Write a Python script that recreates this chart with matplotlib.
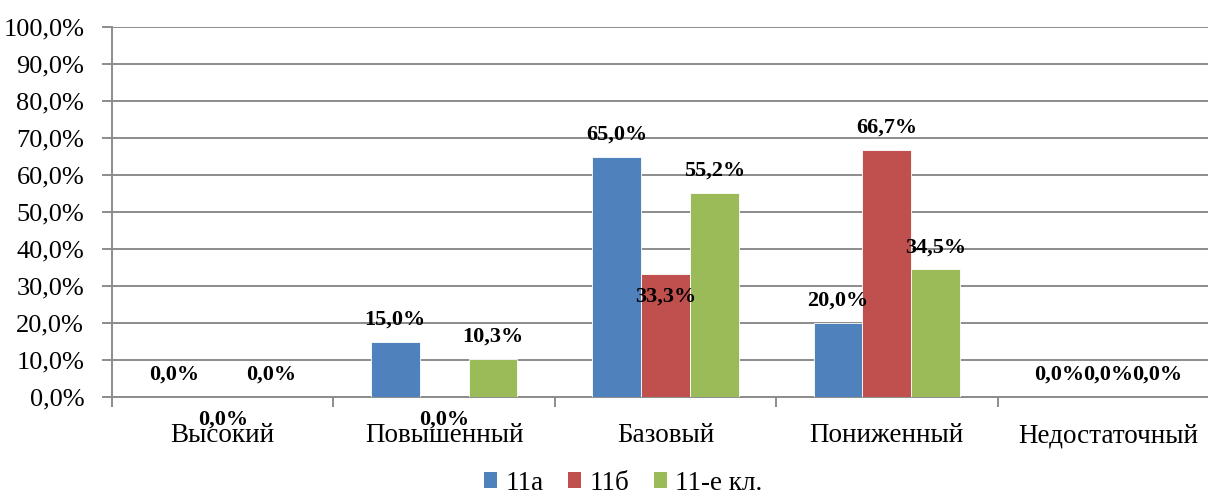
import matplotlib
matplotlib.use("Agg")
import matplotlib.pyplot as plt
from matplotlib.patches import Patch
from matplotlib.ticker import FuncFormatter, MultipleLocator

categories = ["Высокий", "Повышенный", "Базовый", "Пониженный", "Недостаточный"]
series_names = ["11а", "11б", "11-е кл."]
v_11a = [0.0, 15.0, 65.0, 20.0, 0.0]
v_11b = [0.0, 0.0, 33.3, 66.7, 0.0]
v_11all = [0.0, 10.3, 55.2, 34.5, 0.0]
series_values = [v_11a, v_11b, v_11all]
colors = ["#4F81BD", "#C0504D", "#9BBB59"]
# label placement per series / category (+1 above bar top, -1 below)
label_side = [
    [1, 1, 1, 1, 1],
    [-1, -1, -1, 1, 1],
    [1, 1, 1, 1, 1],
]

plt.rcParams["font.family"] = ["Liberation Serif", "DejaVu Serif"]

W, H = 1208, 496
fig = plt.figure(figsize=(W / 100, H / 100), dpi=100)
ax_left, ax_right = 112, 1219
ax_top, ax_bottom = 27, 397
ax = fig.add_axes([ax_left / W, 1 - ax_bottom / H, (ax_right - ax_left) / W, (ax_bottom - ax_top) / H])

grid_c = "#8C8C8C"
bw = 0.221
xs = list(range(len(categories)))
for i, (vals, col) in enumerate(zip(series_values, colors)):
    offs = (i - 1) * bw
    bars = ax.bar([x + offs for x in xs], vals, width=bw, color=col, zorder=3,
                  edgecolor="white", linewidth=0.6)
    for j, (b, v) in enumerate(zip(bars, vals)):
        side = label_side[i][j]
        ax.annotate(f"{v:.1f}%".replace(".", ","),
                    (b.get_x() + b.get_width() / 2, v),
                    xytext=(0, 16 * side - (0.5 if side < 0 else 0)), textcoords="offset points",
                    ha="center", va="center", fontsize=16, fontweight="bold",
                    color="black", zorder=5, annotation_clip=False)

ax.set_xlim(-0.5, len(categories) - 0.5)
ax.set_ylim(0, 100)
ax.yaxis.set_major_locator(MultipleLocator(10))
ax.yaxis.set_major_formatter(FuncFormatter(lambda v, p: f"{v:.1f}%".replace(".", ",")))
ax.grid(axis="y", color=grid_c, linewidth=1.4, zorder=0)
ax.set_axisbelow(True)

ax.set_xticks(xs)
ax.set_xticklabels(categories)
ax.set_xticks([x - 0.5 for x in range(len(categories) + 1)], minor=True)
ax.tick_params(axis="x", which="major", length=0, pad=19, labelsize=19.5)
ax.tick_params(axis="x", which="minor", length=7, width=1.4, color=grid_c)
ax.tick_params(axis="y", length=7, width=1.4, color=grid_c, pad=13, labelsize=19)

for s in ["top", "right"]:
    ax.spines[s].set_visible(False)
for s in ["left", "bottom"]:
    ax.spines[s].set_color(grid_c)
    ax.spines[s].set_linewidth(1.4)

handles = [Patch(facecolor=c, edgecolor="none") for c in colors]
fig.legend(handles, series_names, loc="center", bbox_to_anchor=(623 / W, 1 - 483 / H),
           ncol=3, frameon=False, fontsize=19.5, handlelength=0.5, handleheight=0.5,
           handletextpad=0.3, columnspacing=0.9, borderpad=0.1)

fig.savefig("out.png", dpi=100)
